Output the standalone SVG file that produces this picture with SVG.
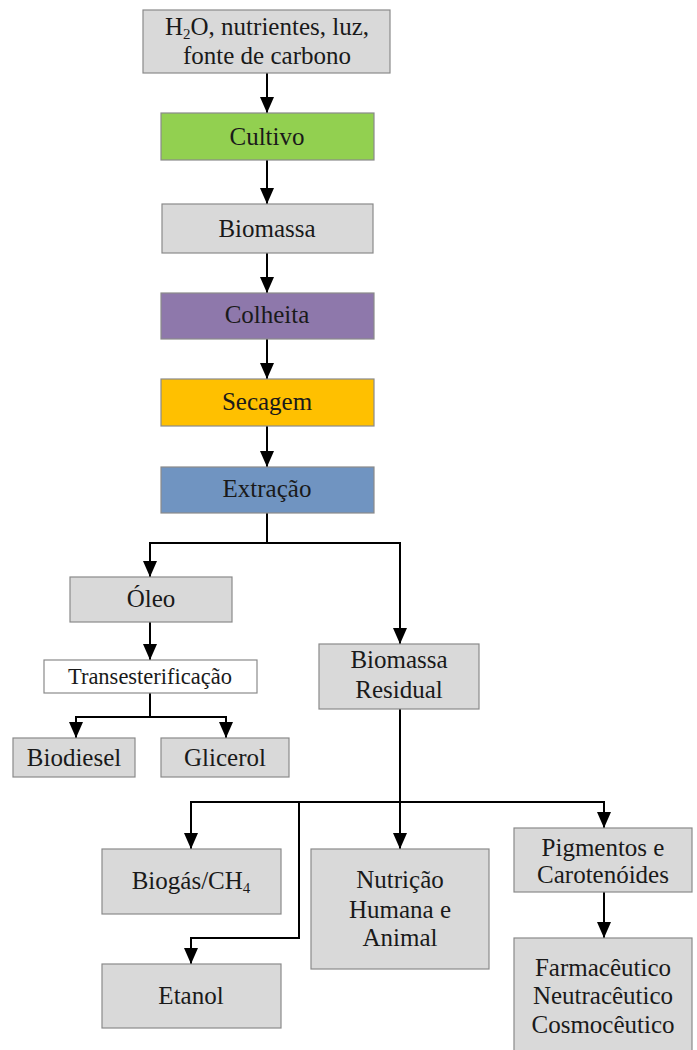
<svg xmlns="http://www.w3.org/2000/svg" width="697" height="1050" viewBox="0 0 697 1050">
<defs>
<marker id="arr" markerUnits="userSpaceOnUse" markerWidth="16" markerHeight="14" viewBox="0 0 16 14" refX="16" refY="7" orient="auto">
<path d="M0,0 L16,7 L0,14 Z" fill="#000"/>
</marker>
<style>
.box{stroke:#8a8a8a;stroke-width:1.2}
.g{fill:#d9d9d9}
.t{font-family:"Liberation Serif","Times New Roman",serif;font-size:25px;fill:#1a1a1a;text-anchor:middle}
.c{fill:none;stroke:#000;stroke-width:2}
</style>
</defs>
<rect width="697" height="1050" fill="#fff"/>
<g id="connectors">
<path class="c" d="M267,73 V113" marker-end="url(#arr)"/>
<path class="c" d="M267,160 V204" marker-end="url(#arr)"/>
<path class="c" d="M267,253 V293" marker-end="url(#arr)"/>
<path class="c" d="M267,339 V379" marker-end="url(#arr)"/>
<path class="c" d="M267,426 V467" marker-end="url(#arr)"/>
<path class="c" d="M267,513 V543 H150 V577" marker-end="url(#arr)"/>
<path class="c" d="M267,543 H400 V644" marker-end="url(#arr)"/>
<path class="c" d="M150,622 V660" marker-end="url(#arr)"/>
<path class="c" d="M150,693 V717 H76 V738" marker-end="url(#arr)"/>
<path class="c" d="M150,717 H226 V738" marker-end="url(#arr)"/>
<path class="c" d="M400,709 V849" marker-end="url(#arr)"/>
<path class="c" d="M400,802 H191 V849" marker-end="url(#arr)"/>
<path class="c" d="M400,802 H604 V828" marker-end="url(#arr)"/>
<path class="c" d="M299,802 V938 H191 V964" marker-end="url(#arr)"/>
<path class="c" d="M604,892 V938" marker-end="url(#arr)"/>
</g>
<g id="n-inputs"><rect class="box g" x="143" y="10" width="247" height="63"/>
<text class="t" x="267" y="35">H<tspan font-size="15" dy="4">2</tspan><tspan dy="-4">O, nutrientes, luz,</tspan></text>
<text class="t" x="267" y="64">fonte de carbono</text></g>
<g id="n-cultivo"><rect class="box" fill="#92d050" x="161" y="113" width="213" height="47"/><text class="t" x="267" y="145">Cultivo</text></g>
<g id="n-biomassa"><rect class="box g" x="162" y="204" width="211" height="49"/><text class="t" x="267" y="237">Biomassa</text></g>
<g id="n-colheita"><rect class="box" fill="#8e78ab" x="161" y="293" width="213" height="46"/><text class="t" x="267" y="323">Colheita</text></g>
<g id="n-secagem"><rect class="box" fill="#ffc000" x="161" y="379" width="213" height="47"/><text class="t" x="267" y="410">Secagem</text></g>
<g id="n-extracao"><rect class="box" fill="#7094c1" x="161" y="467" width="213" height="46"/><text class="t" x="267" y="497">Extração</text></g>
<g id="n-oleo"><rect class="box g" x="70" y="577" width="162" height="45"/><text class="t" x="151" y="607">Óleo</text></g>
<g id="n-trans"><rect class="box" fill="#fff" x="44" y="660" width="213" height="33"/><text class="t" x="150" y="684" style="font-size:22.5px">Transesterificação</text></g>
<g id="n-biodiesel"><rect class="box g" x="13" y="738" width="122" height="39"/><text class="t" x="74" y="766">Biodiesel</text></g>
<g id="n-glicerol"><rect class="box g" x="161" y="738" width="128" height="39"/><text class="t" x="225" y="766">Glicerol</text></g>
<g id="n-residual"><rect class="box g" x="319" y="644" width="160" height="65"/><text class="t" x="399" y="668">Biomassa</text><text class="t" x="399" y="698">Residual</text></g>
<g id="n-biogas"><rect class="box g" x="102" y="849" width="179" height="65"/><text class="t" x="191" y="889">Biogás/CH<tspan font-size="15" dy="4">4</tspan></text></g>
<g id="n-etanol"><rect class="box g" x="102" y="964" width="179" height="64"/><text class="t" x="191" y="1004">Etanol</text></g>
<g id="n-nutricao"><rect class="box g" x="311" y="849" width="178" height="120"/><text class="t" x="400" y="888">Nutrição</text><text class="t" x="400" y="918">Humana e</text><text class="t" x="400" y="946">Animal</text></g>
<g id="n-pigmentos"><rect class="box g" x="514" y="828" width="178" height="64"/><text class="t" x="603" y="856">Pigmentos e</text><text class="t" x="603" y="883">Carotenóides</text></g>
<g id="n-farma"><rect class="box g" x="514" y="938" width="178" height="116"/><text class="t" x="603" y="976">Farmacêutico</text><text class="t" x="603" y="1004">Neutracêutico</text><text class="t" x="603" y="1033">Cosmocêutico</text></g>
</svg>
